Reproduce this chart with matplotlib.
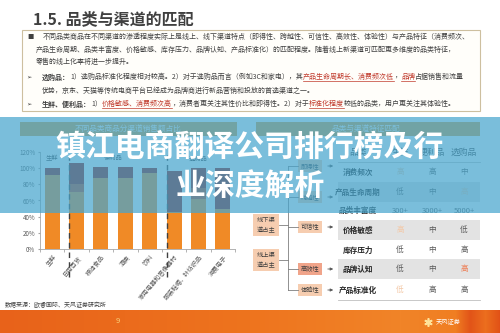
import matplotlib
matplotlib.use('Agg')
import matplotlib.pyplot as plt
import numpy as np
from matplotlib.patches import Rectangle

plt.rcParams['font.family'] = ['Noto Sans CJK SC', 'DejaVu Sans']

# ---------------- data ----------------
categories = ['生鲜', '日用百货', '粮油食品', '酒类', '饮料',
              '家用电器和音像器材', '服装鞋帽、针纺织品', '消费电子']
offline_share = [0.92, 0.70, 0.88, 0.88, 0.94, 0.46, 0.62, 0.49]
other_share = [0.00, 0.11, 0.00, 0.00, 0.00, 0.00, 0.14, 0.00]
online_share = [0.08, 0.25, 0.13, 0.13, 0.06, 0.50, 0.24, 0.51]
group_names = ['生鲜', '便利品', '选购品']
group_centers = [0, 2.5, 6]
group_starts = [1, 5]
ytick_vals = [0, 0.2, 0.4, 0.6, 0.8, 1.0, 1.2]
ytick_labels = ['0%', '20%', '40%', '60%', '80%', '100%', '120%']

table_cols = ['生鲜', '便利品', '选购品']
table_rows = ['消费频次', '产品生命周期', '品类丰富度', '价格敏感', '库存压力', '品牌认知', '产品标准化']
table_vals = [['高', '高', '中'],
              ['低', '中', '高'],
              ['300+', '3000+', '5000+'],
              ['高', '中', '低'],
              ['低', '中', '高'],
              ['低', '中', '高'],
              ['低', '高', '高']]
# highlight: 0 normal, 1 faded peach, 2 strong orange
table_hl = [[1, 0, 0], [0, 0, 1], [0, 0, 0], [1, 0, 0], [0, 0, 0], [0, 0, 2], [1, 0, 0]]
features = ['即得性', '跨越性', '可信性', '高效性', '体验性']
channels = ['线下渠\n道占主', '线上渠\n道占主']

title = '1.5. 品类与渠道的匹配'
overlay_lines = ['镇江电商翻译公司排行榜及行', '业深度解析']

TXT = '#404040'
RED = '#C0392B'
para = [
    (27, 37, '■', [('不同品类商品在不同渠道的渗透程度实际上是线上、线下渠道特点（即得性、跨越性、可信性、高效性、体验性）与产品特征（消费频次、', TXT, False, False)], 43),
    (None, 49.5, None, [('产品生命周期、品类丰富度、价格敏感、库存压力、品牌认知、产品标准化）的匹配程度。随着线上新渠道可匹配更多维度的品类特征，', TXT, False, False)], 36),
    (None, 62, None, [('零售的线上化率将进一步提升。', TXT, False, False)], 36),
    (26, 77, '➢', [('选购品：', TXT, True, False), ('1）选购品标准化程度相对较高。2）对于选购品而言（例如3C和家电），其', TXT, False, False),
                  ('产品生命周期长、消费频次低', RED, False, True), ('，', TXT, False, False), ('品牌', RED, False, True),
                  ('占据销售和流量', TXT, False, False)], 42),
    (None, 90.5, None, [('优势，京东、天猫等传统电商平台已经成为品牌商进行新品营销和投放的首选渠道之一。', TXT, False, False)], 42),
    (26, 104, '➢', [('生鲜、便利品：', TXT, True, False), ('1）', TXT, False, False), ('价格敏感、消费频次高', RED, False, True),
                   ('，消费者更关注其性价比和即得性。2）对于', TXT, False, False), ('标准化程度', RED, False, True),
                   ('较低的品类，用户更关注其体验性。', TXT, False, False)], 42),
]

# ---------------- figure ----------------
W, H = 500, 333
fig = plt.figure(figsize=(5, 3.33), dpi=100)
fig.patch.set_facecolor('white')


def fx(x):
    return x / W


def fy(y):
    return 1 - y / H


ax0 = fig.add_axes([0, 0, 1, 1])
ax0.set_xlim(0, W)
ax0.set_ylim(H, 0)
ax0.set_autoscale_on(False)
ax0.axis('off')
ax0.set_zorder(0)

renderer = fig.canvas.get_renderer()

# title
ax0.text(33, 19, title, fontsize=11.5, fontweight='bold', color='#404040', va='center', ha='left')

# text box
ax0.add_patch(Rectangle((22, 30), 458, 81, facecolor='#FFFEFA', edgecolor='#CDBF9F', lw=0.8))
FS = 5.0
for bx, y, bullet, segs, x0 in para:
    if bullet:
        ax0.text(bx, y, bullet, fontsize=4.5, color='#404040', va='center', ha='left')
    x = x0
    for text, color, bold, ul in segs:
        t = ax0.text(x, y, text, fontsize=FS, color=color, fontweight='bold' if bold else 'normal',
                     va='center', ha='left')
        w = t.get_window_extent(renderer).width
        if ul:
            ax0.plot([x, x + w], [y + 4, y + 4], color=color, lw=0.5)
        x += w

# panel headers
HDR = '#DFA040'
ax0.add_patch(Rectangle((20, 122), 217, 14, facecolor=HDR, edgecolor='none'))
ax0.text(128, 129, '不同品类商品分渠道销售额占比', fontsize=5.5, color='white', ha='center', va='center')
ax0.add_patch(Rectangle((256, 122), 224, 14, facecolor=HDR, edgecolor='none'))
ax0.text(366, 129, '品类与渠道特征匹配', fontsize=5.5, color='white', ha='center', va='center')

# ---------------- right panel: table ----------------
row_y = [172, 192, 211, 230, 250, 269, 290]
col_x = [400, 432, 464]
label_x = 358
for i, y in enumerate(row_y):
    if i in (1, 3, 5):
        ax0.add_patch(Rectangle((338, y - 10), 142, 20, facecolor='#E3E3E3', edgecolor='none'))
ax0.plot([338, 480], [162, 162], color='#BFBFBF', lw=0.6)
ax0.plot([338, 480], [300, 300], color='#BFBFBF', lw=0.6)
ax0.text(label_x, 152, '品类', fontsize=6.3, color='#404040', ha='center', va='center')
for j, c in enumerate(table_cols):
    ax0.text(col_x[j], 152, c, fontsize=6.3, color='#404040', ha='center', va='center')
hl_col = {0: '#595959', 1: '#F3C8A6', 2: '#EE7A50'}
for i, (r, y) in enumerate(zip(table_rows, row_y)):
    ax0.text(label_x, y, r, fontsize=5.5, fontweight='bold', color='#262626', ha='center', va='center')
    for j in range(3):
        ax0.text(col_x[j], y, table_vals[i][j], fontsize=5.5, color=hl_col[table_hl[i][j]],
                 ha='center', va='center')

# ---------------- right panel: diagram ----------------
feat_y = [166, 197, 227, 269, 290]
feat_col = ['#F6CDB0', '#F6CDB0', '#F6CDB0', '#F0A48A', '#F6CDB0']
LINE = '#7F7F7F'
ax0.plot([288, 288], [feat_y[0], feat_y[-1]], color=LINE, lw=0.6)
for f, y, c in zip(features, feat_y, feat_col):
    ax0.plot([288, 298], [y, y], color=LINE, lw=0.6)
    ax0.add_patch(Rectangle((298, y - 6), 24, 12, facecolor=c, edgecolor='none'))
    ax0.text(310, y, f, fontsize=4.5, color='#404040', ha='center', va='center')
    ax0.annotate('', xy=(336, y), xytext=(325, y),
                 arrowprops=dict(arrowstyle='-|>', color='#595959', lw=0.6, mutation_scale=4))
ch_y = [225, 260]
for ch, y in zip(channels, ch_y):
    ax0.add_patch(Rectangle((253, y - 11), 26, 22, facecolor='#F6CDB0', edgecolor='none'))
    ax0.text(266, y, ch, fontsize=4.5, color='#404040', ha='center', va='center', linespacing=1.3)
    ax0.plot([279, 288], [y, y], color=LINE, lw=0.6)

# source
ax0.text(5, 305, '数据来源：欧睿国际、天风证券研究所', fontsize=4.3, color='#404040', ha='left', va='center')

# footer gradient
stops_x = [0, 250, 400, 455, 470, 485, 500]
stops_c = np.array([[232, 98, 26], [238, 116, 30], [241, 132, 40], [240, 126, 34],
                    [226, 84, 24], [236, 110, 30], [225, 80, 22]]) / 255.0
xs = np.arange(500)
grad = np.stack([np.interp(xs, stops_x, stops_c[:, k]) for k in range(3)], axis=-1)[None, :, :]
ax0.imshow(grad, extent=[0, 500, 333, 310], aspect='auto', zorder=0)
ax0.text(118, 321, '9', fontsize=5.5, color='#F8D27A', ha='center', va='center')
ax0.plot(428, 322, marker=(6, 2, 0), color='#FFE39A', ms=6, mew=1.2)
ax0.text(436, 322, '天风证券', fontsize=4.5, color='white', ha='left', va='center')

# ---------------- bar chart ----------------
C_OFF = '#F08A26'
C_MID = '#C8441A'
C_ON = '#96100A'
axb = fig.add_axes([fx(40), fy(249), fx(235) - fx(40), fy(152) - fy(249)])
axb.set_zorder(1)
axb.patch.set_alpha(0)
xpos = np.arange(len(categories))
bw = 0.62
axb.bar(xpos, offline_share, bw, color=C_OFF)
axb.bar(xpos, other_share, bw, bottom=offline_share, color=C_MID)
axb.bar(xpos, online_share, bw, bottom=np.add(offline_share, other_share), color=C_ON)
axb.set_xlim(-0.5, len(categories) - 0.5)
axb.set_ylim(0, 1.2)
axb.set_yticks(ytick_vals)
axb.set_yticklabels(ytick_labels, fontsize=4.5, color='#595959')
axb.set_xticks(xpos)
axb.set_xticklabels(categories, rotation=50, ha='right', rotation_mode='anchor', fontsize=4.5, color='#595959')
axb.tick_params(axis='x', length=0, pad=3)
axb.tick_params(axis='y', length=1.5, pad=2, color='#A6A6A6')
axb.set_xticks(np.arange(-0.5, len(categories)), minor=True)
axb.tick_params(axis='x', which='minor', length=2, color='#A6A6A6')
for s in ('top', 'right'):
    axb.spines[s].set_visible(False)
for s in ('left', 'bottom'):
    axb.spines[s].set_color('#A6A6A6')
    axb.spines[s].set_linewidth(0.6)
for g in group_starts:
    axb.plot([g - bw / 2] * 2, [-0.35, 1.16], ls=(0, (4, 3)), color='#404040', lw=1.0, clip_on=False)
for name, cx in zip(group_names, group_centers):
    axb.text(cx, 1.12, name, fontsize=4.5, color='#404040', ha='center', va='center')

# ---------------- overlay band + headline ----------------
ax1 = fig.add_axes([0, 0, 1, 1])
ax1.set_zorder(5)
ax1.patch.set_alpha(0)
ax1.set_xlim(0, W)
ax1.set_ylim(H, 0)
ax1.axis('off')
ax1.add_patch(Rectangle((0, 117), 500, 96, facecolor=(71 / 255, 165 / 255, 205 / 255), alpha=0.72,
                        edgecolor='none'))
ax1.text(250, 147, overlay_lines[0], fontsize=21.5, fontweight='bold', color='white', ha='center', va='center')
ax1.text(250, 186, overlay_lines[1], fontsize=21.5, fontweight='bold', color='white', ha='center', va='center')

fig.savefig('out.png', dpi=100, facecolor='white')
